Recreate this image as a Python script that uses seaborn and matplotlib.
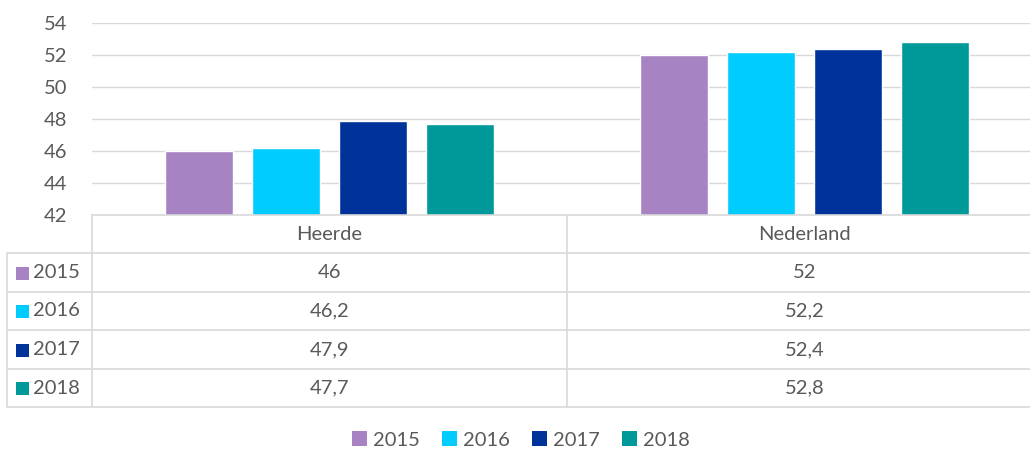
import numpy as np
import pandas as pd
import matplotlib
matplotlib.use("Agg")
import matplotlib.pyplot as plt
from matplotlib.patches import Patch
import seaborn as sns

# =====================================================
# DATA
# =====================================================

categories = ["Heerde", "Nederland"]
years = ["2015", "2016", "2017", "2018"]
values_2015 = [46, 52]
values_2016 = [46.2, 52.2]
values_2017 = [47.9, 52.4]
values_2018 = [47.7, 52.8]
yticks = [42, 44, 46, 48, 50, 52, 54]

series = [values_2015, values_2016, values_2017, values_2018]
colors = ["#A783C4", "#00CCFF", "#003399", "#009999"]

df = pd.DataFrame(
    [(c, y, v) for y, vals in zip(years, series) for c, v in zip(categories, vals)],
    columns=["gebied", "jaar", "waarde"],
)

# =====================================================
# STYLE
# =====================================================

sns.set_style("white")
plt.rcParams["font.family"] = ["Lato", "DejaVu Sans"]
TXT = "#595959"
GRID = "#D9D9D9"
FS = 14.5

W, H = 1030, 455
fig = plt.figure(figsize=(W / 100, H / 100), dpi=100)


def fx(px):
    return px / W


def fy(px):
    return 1 - px / H


left, right, top, bottom = 92, 1042, 23, 215
ax = fig.add_axes([fx(left), fy(bottom), fx(right - left), fy(top) - fy(bottom)])

sns.barplot(
    data=df, x="gebied", y="waarde", hue="jaar",
    palette=colors, width=0.733, gap=0.22, ax=ax, legend=False,
    saturation=1,
)

ax.set_ylim(42, 54)
ax.set_yticks(yticks)
ax.set_yticklabels([str(t) for t in yticks], fontsize=FS, color=TXT)
ax.yaxis.grid(True, color=GRID, linewidth=1)
ax.set_axisbelow(True)
ax.set_xticks([])
ax.set_xlabel("")
ax.set_ylabel("")
ax.tick_params(axis="y", length=0, pad=18)
for s in ax.spines.values():
    s.set_visible(False)

# =====================================================
# DATA TABLE
# =====================================================

row_tops = [215, 253, 292, 330, 369, 407]
tab = fig.add_axes([0, 0, 1, 1], facecolor="none")
tab.set_xlim(0, W)
tab.set_ylim(H, 0)
tab.axis("off")

mid = 567
# horizontal lines
tab.plot([left, right], [row_tops[0]] * 2, color=GRID, lw=1.2)
for yy in row_tops[1:]:
    tab.plot([7, right], [yy, yy], color=GRID, lw=1.2)
# vertical lines
tab.plot([left, left], [row_tops[0], row_tops[-1]], color=GRID, lw=1.2)
tab.plot([mid, mid], [row_tops[0], row_tops[-1]], color=GRID, lw=1.2)
tab.plot([7, 7], [row_tops[1], row_tops[-1]], color=GRID, lw=1.2)

col_centers = [(left + mid) / 2, (mid + right) / 2]
hy = (row_tops[0] + row_tops[1]) / 2
for cx, name in zip(col_centers, categories):
    tab.text(cx, hy, name, ha="center", va="center", fontsize=FS, color=TXT)

for i, (yr, vals, col) in enumerate(zip(years, series, colors)):
    cy = (row_tops[i + 1] + row_tops[i + 2]) / 2
    tab.add_patch(plt.Rectangle((16, cy - 6), 13, 13, color=col, lw=0))
    tab.text(33, cy, yr, ha="left", va="center", fontsize=FS, color=TXT)
    for cx, v in zip(col_centers, vals):
        label = f"{v:g}".replace(".", ",")
        tab.text(cx, cy, label, ha="center", va="center", fontsize=FS, color=TXT)

# =====================================================
# LEGEND
# =====================================================

handles = [Patch(facecolor=c, edgecolor="none", label=y) for c, y in zip(colors, years)]
fig.legend(
    handles=handles, loc="center", bbox_to_anchor=(fx(521), fy(440)),
    ncol=4, frameon=False, fontsize=FS, labelcolor=TXT,
    handlelength=0.75, handleheight=0.75, handletextpad=0.3, columnspacing=1.1,
)

fig.savefig("out.png", dpi=100, facecolor="white")
